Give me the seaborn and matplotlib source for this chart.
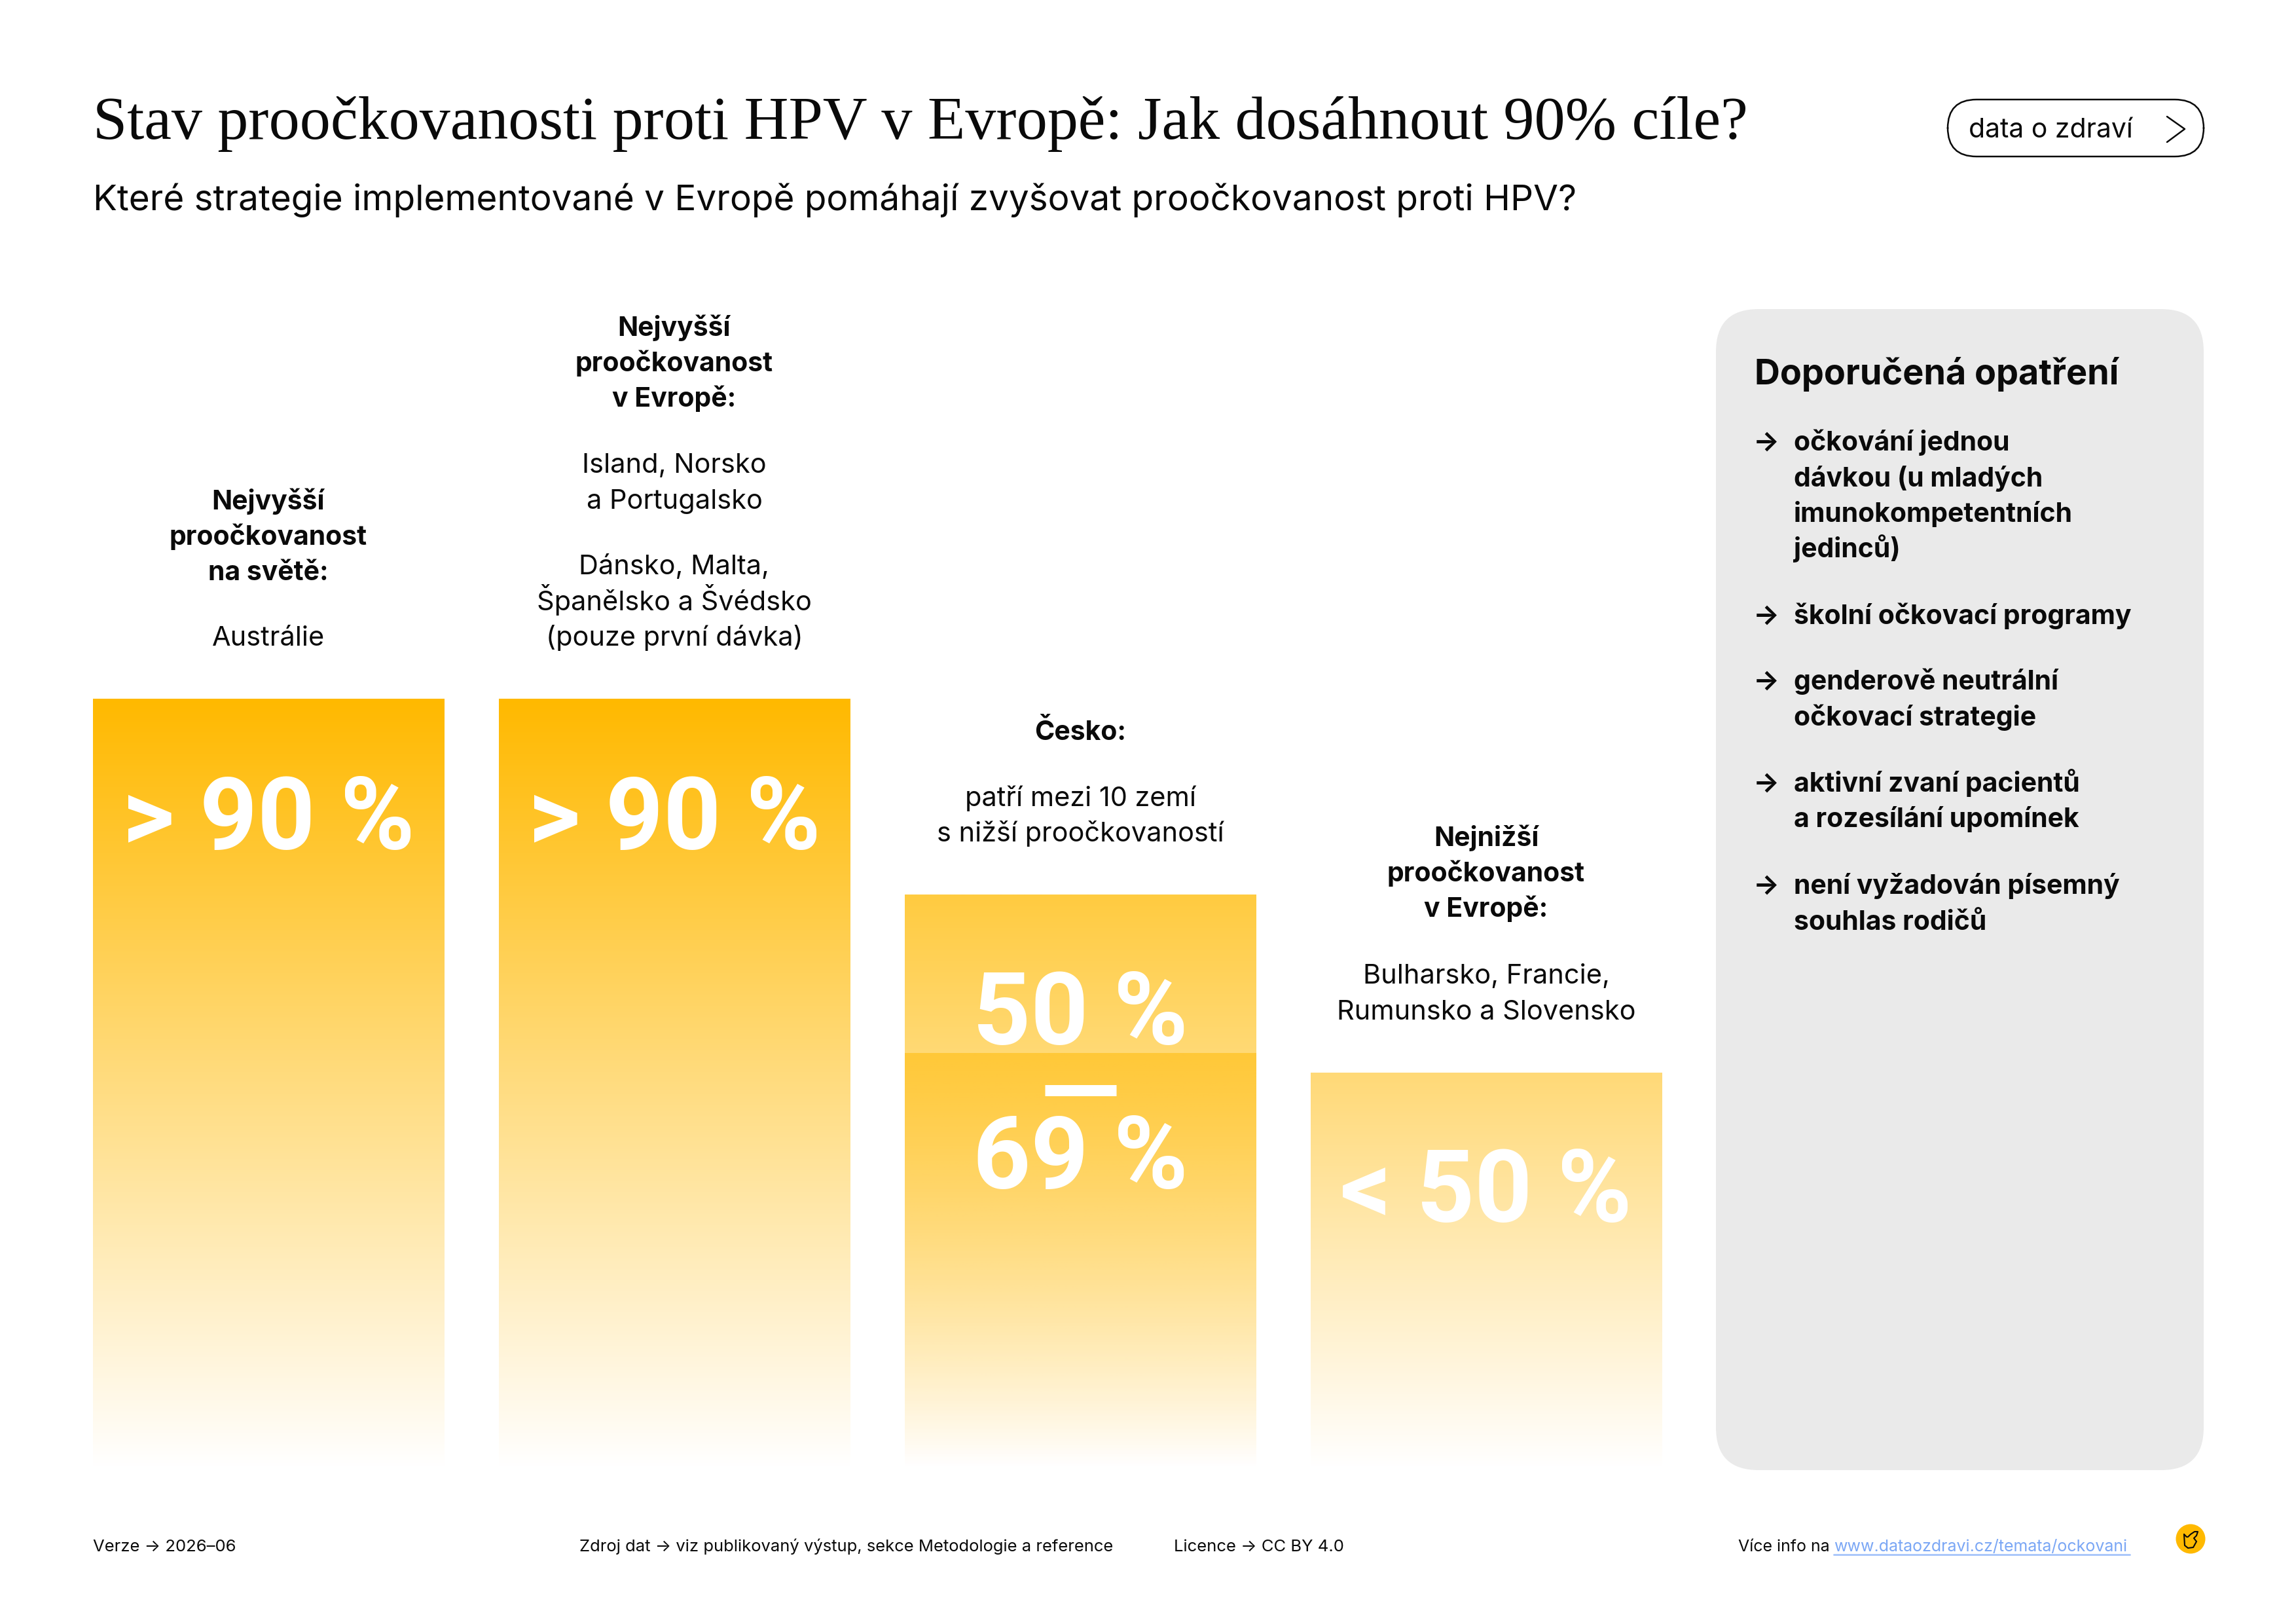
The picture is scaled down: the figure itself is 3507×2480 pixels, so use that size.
import numpy as np
import pandas as pd
import matplotlib
matplotlib.use('Agg')
import matplotlib.pyplot as plt
import matplotlib.colors as mcolors
from matplotlib.patches import FancyBboxPatch, Circle
import seaborn as sns

W, H = 3507, 2480

# Data (bar heights in %, labels as printed)
groups = ['Nejvyšší na světě', 'Nejvyšší v Evropě', 'Česko', 'Nejnižší v Evropě']
heights = [90, 90, 67.0, 46.2]
inner_group = ['Česko']
inner_height = [48.5]
top_colors = ['#FFB900', '#FFB900', '#FFCB40', '#FFD977']

title = 'Stav proočkovanosti proti HPV v Evropě: Jak dosáhnout 90% cíle?'
subtitle = 'Které strategie implementované v Evropě pomáhají zvyšovat proočkovanost proti HPV?'
panel_title = 'Doporučená opatření'

# (text, bold, baseline px) for the block above each bar
col_texts = [
    [('Nejvyšší', 1, 778), ('proočkovanost', 1, 832), ('na světě:', 1, 886), ('Austrálie', 0, 986)],
    [('Nejvyšší', 1, 513), ('proočkovanost', 1, 567), ('v Evropě:', 1, 621),
     ('Island, Norsko', 0, 722), ('a Portugalsko', 0, 777),
     ('Dánsko, Malta,', 0, 877), ('Španělsko a Švédsko', 0, 932), ('(pouze první dávka)', 0, 986)],
    [('Česko:', 1, 1130), ('patří mezi 10 zemí', 0, 1231), ('s nižší proočkovaností', 0, 1285)],
    [('Nejnižší', 1, 1292), ('proočkovanost', 1, 1346), ('v Evropě:', 1, 1400),
     ('Bulharsko, Francie,', 0, 1502), ('Rumunsko a Slovensko', 0, 1557)],
]
big_labels = [('> 90 %', 0, 1297), ('> 90 %', 1, 1297), ('50 %', 2, 1595), ('69 %', 2, 1815), ('< 50 %', 3, 1866)]

panel_items = [
    (['očkování jednou', 'dávkou (u mladých', 'imunokompetentních', 'jedinců)'], [688, 743, 797, 851]),
    (['školní očkovací programy'], [953]),
    (['genderově neutrální', 'očkovací strategie'], [1053, 1108]),
    (['aktivní zvaní pacientů', 'a rozesílání upomínek'], [1209, 1263]),
    (['není vyžadován písemný', 'souhlas rodičů'], [1365, 1420]),
]

sns.set_theme(style='white')
plt.rcParams['font.family'] = ['Inter', 'DejaVu Sans']

fig = plt.figure(figsize=(W / 300, H / 300), dpi=300, facecolor='white')


def fs(px):
    # font size in points from a height in pixels
    return px * 72 / 300


# Bars: positions and heights come from seaborn, the fill is a gradient on top
ax = fig.add_axes([100 / W, (H - 2240) / H, 2480 / W, 1303 / H])
df = pd.DataFrame({'group': groups, 'value': heights})
df_inner = pd.DataFrame({'group': inner_group, 'value': inner_height})
sns.barplot(data=df, x='group', y='value', order=groups, width=0.866, color='#FFB900', ax=ax)
n_outer = len(ax.patches)
sns.barplot(data=df_inner, x='group', y='value', order=groups, width=0.866, color='#FFB900', ax=ax)


def gradient(color, alpha_top=1.0, alpha_bottom=1.0, to_white=True):
    rgb = np.array(mcolors.to_rgb(color))
    t = np.linspace(0, 1, 512)[:, None]
    img = np.zeros((512, 1, 4))
    img[:, 0, :3] = rgb * (1 - t) + t if to_white else rgb
    img[:, 0, 3] = alpha_top * (1 - t[:, 0]) + alpha_bottom * t[:, 0]
    return img


for i, p in enumerate(ax.patches):
    p.set_facecolor('none')
    p.set_edgecolor('none')
    x0, x1, h = p.get_x(), p.get_x() + p.get_width(), p.get_height()
    if i < n_outer:
        img = gradient(top_colors[i])
    else:
        img = gradient('#FFB900', 0.52, 0.0, to_white=False)
    ax.imshow(img, extent=[x0, x1, 0, h], aspect='auto', zorder=2 + i)

ax.set_xlim(-0.5, 3.5)
ax.set_ylim(0, 100)
ax.axis('off')

# Overlay in pixel coordinates for the text and the decoration
ov = fig.add_axes([0, 0, 1, 1])
ov.set_xlim(0, W)
ov.set_ylim(H, 0)
ov.axis('off')

centers = [410, 1030, 1650, 2270]
ink = '#0A0A0A'

ov.text(142, 212, title, family=['Liberation Serif'], fontsize=fs(94), color=ink, va='baseline')
ov.text(142, 321, subtitle, fontsize=fs(54.9), color=ink, va='baseline')

# Button
ov.add_patch(FancyBboxPatch((2975, 152), 391, 87, boxstyle='round,pad=0,rounding_size=44',
                            fc='white', ec=ink, lw=0.6))
ov.text(3007, 210, 'data o zdraví', fontsize=fs(41), color=ink, va='baseline')
ov.plot([3310, 3337, 3310], [178, 197, 217], color=ink, lw=0.6)

# Text above bars
for cx, lines in zip(centers, col_texts):
    for txt, bold, y in lines:
        ov.text(cx, y, txt, ha='center', va='baseline', fontsize=fs(41 if bold else 41.5), color=ink,
                fontweight='bold' if bold else 'normal')

# Big numbers inside bars
for txt, idx, y in big_labels:
    ov.text(centers[idx], y, txt, ha='center', va='baseline', family=['Roboto'], fontsize=fs(154),
            fontweight='bold', color='white')
ov.plot([1596, 1705], [1665, 1665], color='white', lw=17 * 72 / 300, solid_capstyle='butt')

# Panel on the right
ov.add_patch(FancyBboxPatch((2621, 472), 745, 1773, boxstyle='round,pad=0,rounding_size=65',
                            fc='#EAEAEA', ec='none'))
ov.text(2680, 587, panel_title, fontsize=fs(54), fontweight='bold', color=ink, va='baseline')
for lines, ys in panel_items:
    ov.text(2678, ys[0], '→', fontsize=fs(42), fontweight='bold', color=ink, va='baseline')
    for txt, y in zip(lines, ys):
        ov.text(2740, y, txt, fontsize=fs(41), fontweight='bold', color=ink, va='baseline')

# Footer
foot_y = 2369
ov.text(142, foot_y, 'Verze → 2026–06', fontsize=fs(25.7), color=ink, va='baseline')
ov.text(885, foot_y, 'Zdroj dat → viz publikovaný výstup, sekce Metodologie a reference',
        fontsize=fs(25.6), color=ink, va='baseline')
ov.text(1793, foot_y, 'Licence → CC BY 4.0', fontsize=fs(25.7), color=ink, va='baseline')
ov.text(2655, foot_y, 'Více info na', fontsize=fs(25), color=ink, va='baseline')
ov.text(2801, foot_y, 'www.dataozdravi.cz/temata/ockovani', fontsize=fs(25), color='#7BA7F5', va='baseline')
ov.plot([2801, 3253], [2374, 2374], color='#A9C6FA', lw=0.7)

# Logo
ov.add_patch(Circle((3346, 2350), 22.5, fc='#FFB900', ec='none'))
hand_x = [3336, 3340, 3342, 3346, 3352, 3357, 3355, 3351, 3355, 3350, 3342, 3337, 3336]
hand_y = [2343, 2347, 2347, 2343, 2339, 2339, 2345, 2349, 2354, 2363, 2364, 2360, 2343]
ov.plot(hand_x, hand_y, color=ink, lw=0.5)

fig.savefig('out.png', dpi=300)
